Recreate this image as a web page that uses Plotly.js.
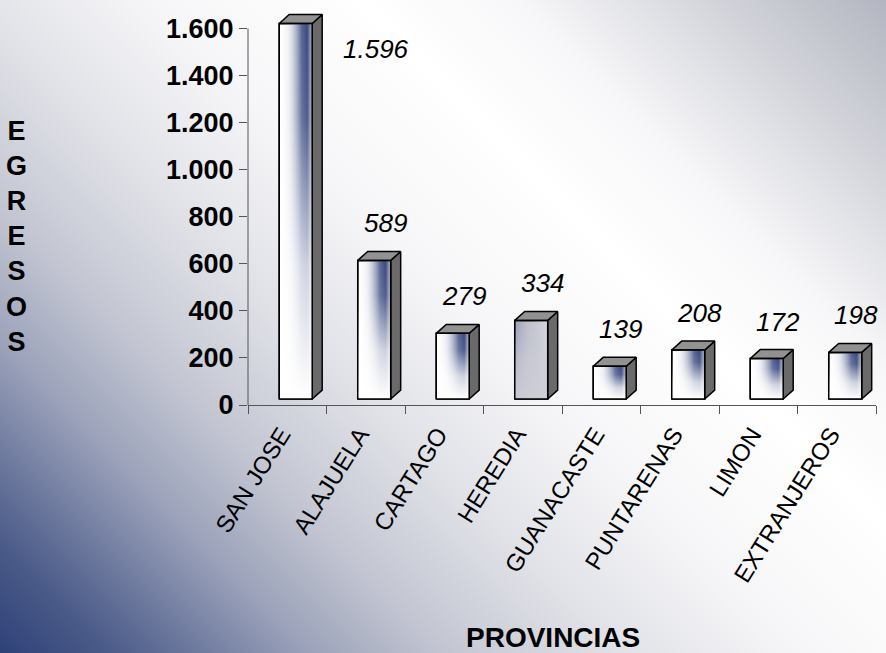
<!DOCTYPE html>
<html><head><meta charset="utf-8">
<script src="https://cdn.plot.ly/plotly-3.0.1.min.js"></script>
<style>
html,body{margin:0;padding:0;overflow:hidden;}
#chart{width:886px;height:653px;
background:linear-gradient(45deg,#2e4178 0%,#4a5a88 7%,#6e7a9e 13%,#9aa1b9 20%,#c3c6d2 29%,#e0e1e7 40%,#f6f6f8 52%,#ffffff 66%,#f7f7f9 76%,#d8d9df 87%,#c4c6ce 94%,#b3b6c1 100%);}
</style></head><body><div id="chart"></div>
<script>
// ---- data ----
const provincias = ['SAN JOSE','ALAJUELA','CARTAGO','HEREDIA','GUANACASTE','PUNTARENAS','LIMON','EXTRANJEROS'];
const egresos = [1596, 589, 279, 334, 139, 208, 172, 198];
const yTickVals = [0, 200, 400, 600, 800, 1000, 1200, 1400, 1600];
const yTitle = 'EGRESOS';
const xTitle = 'PROVINCIAS';

// ---- style constants ----
const FONT = 'Liberation Sans, Arial, sans-serif';
const BASE = 25.5;      // lift of the front face above the floor
const DX = 0.127, DY = 38;  // 3D depth (x in category units, y in value units)
const OFF = 0.108, HALF = 0.21;
const GREY_FACE = 'HEREDIA';   // this bar is drawn with a grey front in the original

function fmt(v){ return String(v).replace(/\B(?=(\d{3})+(?!\d))/g,'.'); }

const traces = [];
traces.push({
  type:'bar', x: provincias, y: egresos, base: BASE,
  width: 2*HALF, offset: OFF-HALF,
  marker:{color: provincias.map(p => p===GREY_FACE ? '#c9cad3' : '#ffffff'), line:{color:'#000', width:1.5}},
  hovertemplate:'%{x}: %{y}<extra></extra>', showlegend:false
});

// side and top faces
const sx=[], sy=[], tx=[], ty=[];
egresos.forEach((v,i)=>{
  const x0=i+OFF-HALF, x1=i+OFF+HALF, top=v+BASE;
  sx.push(x1,x1+DX,x1+DX,x1,x1,null); sy.push(BASE,BASE+DY,top+DY,top,BASE,null);
  tx.push(x0,x0+DX,x1+DX,x1,x0,null); ty.push(top,top+DY,top+DY,top,top,null);
});
traces.push({type:'scatter', mode:'lines', x:sx, y:sy, xaxis:'x2', fill:'toself',
  fillcolor:'#6a6a6a', line:{color:'#000', width:1.5}, hoverinfo:'skip', showlegend:false});
traces.push({type:'scatter', mode:'lines', x:tx, y:ty, xaxis:'x2', fill:'toself',
  fillcolor:'#929292', line:{color:'#000', width:1.5}, hoverinfo:'skip', showlegend:false});

// front face gradients
egresos.forEach((v,i)=>{
  const x0=i+OFF-HALF, x1=i+OFF+HALF, top=v+BASE;
  const px=[x0,x1,x1,x0,x0], py=[BASE,BASE,top,top,BASE];
  const grey = provincias[i]===GREY_FACE;
  traces.push({type:'scatter', mode:'lines', x:px, y:py, xaxis:'x2', fill:'toself',
    line:{width:0}, hoverinfo:'skip', showlegend:false,
    fillgradient: grey
      ? {type:'horizontal', colorscale:[[0,'rgba(110,116,160,0.55)'],[0.45,'rgba(170,174,196,0.3)'],[1,'rgba(225,226,232,0.6)']]}
      : {type:'horizontal', colorscale:[[0,'rgba(255,255,255,0)'],[0.3,'rgba(200,204,218,0.35)'],[0.68,'rgba(66,82,134,0.88)'],[0.85,'rgba(48,64,120,0.95)'],[1,'rgba(170,176,198,0.85)']]}});
  traces.push({type:'scatter', mode:'lines', x:px, y:py, xaxis:'x2', fill:'toself',
    line:{color:'#000', width:1.5}, hoverinfo:'skip', showlegend:false,
    fillgradient: grey
      ? {type:'vertical', colorscale:[[0,'rgba(205,206,214,0.9)'],[0.5,'rgba(205,206,214,0.6)'],[1,'rgba(205,206,214,0)']]}
      : {type:'vertical', colorscale:[[0,'rgba(255,255,255,1)'],[0.35,'rgba(255,255,255,0.75)'],[0.75,'rgba(255,255,255,0.1)'],[1,'rgba(255,255,255,0)']]}});
});

const annotations = egresos.map((v,i)=>{
  const over = v + BASE + 160 > 1700;
  return {xref:'x2', yref:'y', x: over ? i+1.13 : i+OFF+0.14, y: v+BASE,
    yshift: over ? -26 : 37, showarrow:false, xanchor:'center', yanchor:'middle',
    text:'<i>'+fmt(v)+'</i>', font:{family:FONT, size:26, color:'#000'}};
});
annotations.push({xref:'paper', yref:'paper', x:-0.368, y:0.4225, xanchor:'center', yanchor:'middle',
  showarrow:false, text:'<b>'+yTitle.split('').join('<br>')+'</b>', font:{family:FONT, size:27, color:'#000'}});
annotations.push({xref:'paper', yref:'paper', x:0.486, y:-0.58, xanchor:'center', yanchor:'middle',
  showarrow:false, text:'<b>'+xTitle+'</b>', font:{family:FONT, size:28, color:'#000'}});

const layout = {
  width:886, height:653,
  margin:{l:248, r:10, t:5, b:248},
  paper_bgcolor:'rgba(0,0,0,0)', plot_bgcolor:'rgba(0,0,0,0)',
  separators:',.',
  showlegend:false,
  xaxis:{type:'category', range:[-0.5,7.5], tickson:'boundaries', ticks:'outside', ticklen:8,
    tickcolor:'#555', showline:true, linecolor:'#555', linewidth:1, showgrid:false, zeroline:false,
    tickangle:-58, ticklabelshift:-6, ticklabelstandoff:5,
    tickfont:{family:FONT, size:24, color:'#000'}, fixedrange:true},
  xaxis2:{overlaying:'x', range:[-0.5,7.5], visible:false, fixedrange:true},
  yaxis:{range:[0,1700], tickvals:yTickVals, tickformat:',d', ticks:'outside', ticklen:8,
    tickcolor:'#555', showline:false, showgrid:false, zeroline:false,
    tickfont:{family:FONT, size:27, color:'#000', weight:'bold'}, fixedrange:true},
  shapes:[{type:'line', xref:'paper', x0:0, x1:0, yref:'y', y0:0, y1:yTickVals[yTickVals.length-1],
    line:{color:'#555', width:1}}],
  annotations: annotations
};
Plotly.newPlot('chart', traces, layout, {displayModeBar:false, staticPlot:true});
</script></body></html>
